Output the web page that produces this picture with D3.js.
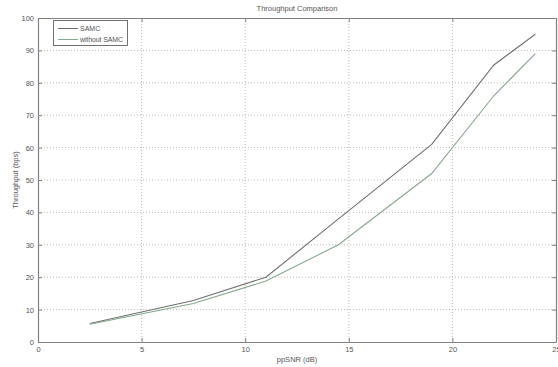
<!DOCTYPE html>
<html><head><meta charset="utf-8">
<script src="https://cdn.jsdelivr.net/npm/d3@7/dist/d3.min.js"></script>
<style>body{margin:0;background:#fff;}svg{display:block;}text{font-family:"Liberation Sans",Arial,sans-serif;fill:#555;}</style>
</head><body><svg id="c" width="558" height="367"></svg>
<script>
const snr = [2.5, 7.5, 11, 14.5, 19, 22, 24];
const samc = [5.7, 12.8, 20, 38, 61, 85.5, 95];
const withoutSamc = [5.5, 11.9, 18.8, 30, 52, 76, 89];
const xTicks = [0, 5, 10, 15, 20, 25];
const yTicks = [0, 10, 20, 30, 40, 50, 60, 70, 80, 90, 100];
const seriesNames = ["SAMC", "without SAMC"];

const svg = d3.select("#c");
const L = 38, R = 556, T = 18, B = 342;
const x = d3.scaleLinear().domain([0, 25]).range([L, R]);
const y = d3.scaleLinear().domain([0, 100]).range([B, T]);

svg.append("rect").attr("x",0).attr("y",0).attr("width",558).attr("height",367).attr("fill","#fff");

// grid
const g = svg.append("g");
g.selectAll(".gx").data(xTicks.slice(1, -1)).enter().append("line")
  .attr("x1", d => x(d)).attr("x2", d => x(d)).attr("y1", T).attr("y2", B)
  .attr("stroke", "#aaa").attr("stroke-width", 0.8).attr("stroke-dasharray", "1,2");
g.selectAll(".gy").data(yTicks.slice(1, -1)).enter().append("line")
  .attr("y1", d => y(d)).attr("y2", d => y(d)).attr("x1", L).attr("x2", R)
  .attr("stroke", "#aaa").attr("stroke-width", 0.8).attr("stroke-dasharray", "1,2");

// axes
const fmt = d3.format("d");
const axB = svg.append("g").attr("transform", `translate(0,${B})`)
  .call(d3.axisBottom(x).tickValues(xTicks).tickFormat(fmt).tickSizeInner(-4).tickSizeOuter(0).tickPadding(5));
const axT = svg.append("g").attr("transform", `translate(0,${T})`)
  .call(d3.axisTop(x).tickValues(xTicks).tickFormat("").tickSizeInner(-4).tickSizeOuter(0));
const axL = svg.append("g").attr("transform", `translate(${L},0)`)
  .call(d3.axisLeft(y).tickValues(yTicks).tickFormat(fmt).tickSizeInner(-4).tickSizeOuter(0).tickPadding(4));
const axR = svg.append("g").attr("transform", `translate(${R},0)`)
  .call(d3.axisRight(y).tickValues(yTicks).tickFormat("").tickSizeInner(-4).tickSizeOuter(0));
[axB, axT, axL, axR].forEach(a => {
  a.selectAll("path").attr("stroke", "#808080").attr("stroke-width", 1.2);
  a.selectAll("line").attr("stroke", "#808080");
  a.selectAll("text").attr("font-size", 7.5).attr("fill", "#666").attr("font-family", "Liberation Sans, Arial, sans-serif");
});

// lines
const colors = ["#707070", "#86a88c"];
const data = [samc, withoutSamc];
const line = d3.line().x((d, i) => x(snr[i])).y(d => y(d));
data.forEach((s, k) => {
  svg.append("path").datum(s).attr("d", line).attr("fill", "none")
    .attr("stroke", colors[k]).attr("stroke-width", 1.1);
});

// title & labels
svg.append("text").attr("x", (L + R) / 2).attr("y", 11).attr("text-anchor", "middle")
  .attr("font-size", 7.5).text("Throughput Comparison");
svg.append("text").attr("x", (L + R) / 2).attr("y", 362).attr("text-anchor", "middle")
  .attr("font-size", 7.5).text("ppSNR (dB)");
svg.append("text").attr("transform", `translate(18,${(T + B) / 2}) rotate(-90)`).attr("text-anchor", "middle")
  .attr("font-size", 7.5).text("Throughput (bps)");

// legend
const lg = svg.append("g");
lg.append("rect").attr("x", 53.5).attr("y", 20.5).attr("width", 74).attr("height", 25)
  .attr("fill", "#fff").attr("stroke", "#707070").attr("stroke-width", 1);
seriesNames.forEach((n, k) => {
  const yy = 28.5 + k * 11;
  lg.append("line").attr("x1", 58).attr("x2", 78).attr("y1", yy).attr("y2", yy)
    .attr("stroke", colors[k]).attr("stroke-width", 1);
  lg.append("text").attr("x", 80).attr("y", yy + 2.5).attr("font-size", 7).attr("fill", "#666")
    .attr("textLength", k === 1 ? 43 : null).text(n);
});
</script></body></html>
